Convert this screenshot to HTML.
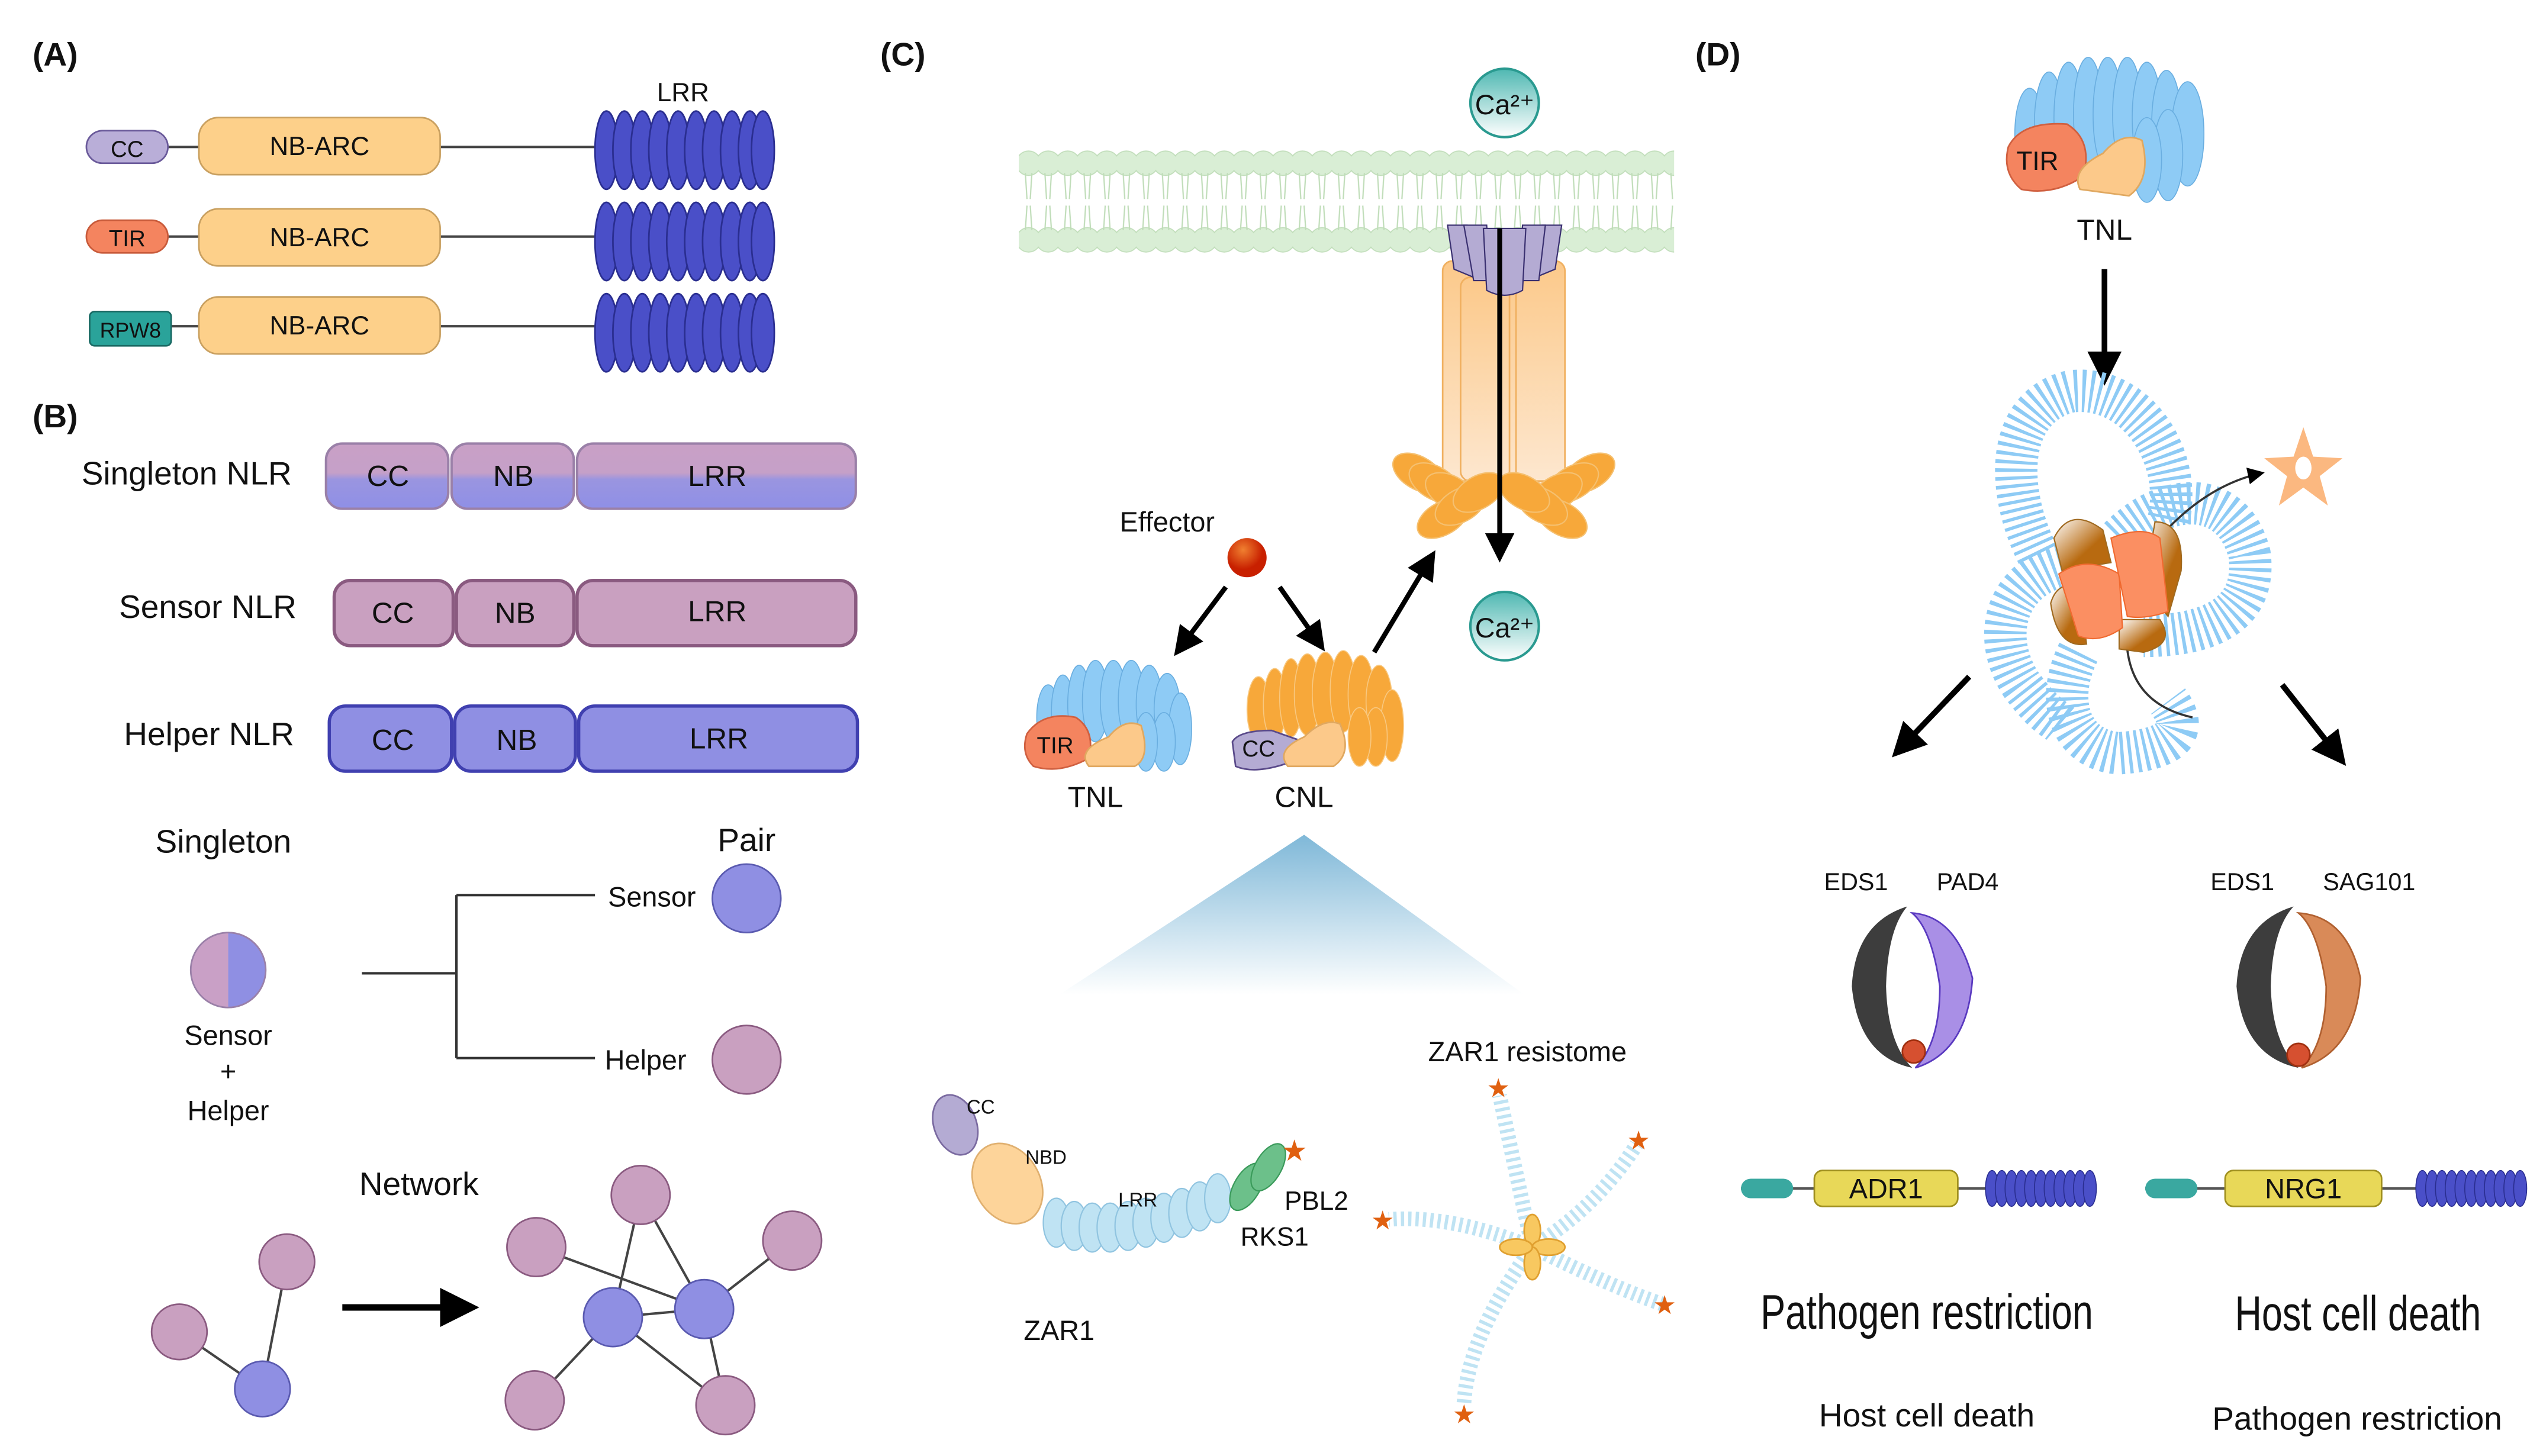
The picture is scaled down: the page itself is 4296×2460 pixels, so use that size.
<!DOCTYPE html>
<html><head><meta charset="utf-8"><style>
html,body{margin:0;padding:0;background:#fff}
svg{display:block}
text{font-family:"Liberation Sans",sans-serif;fill:#111}
text.star{fill:#e06010}
</style></head><body>
<svg width="4296" height="2460" viewBox="0 0 1560 893" xmlns="http://www.w3.org/2000/svg">
<defs>
<linearGradient id="sg" x1="0" y1="0" x2="0" y2="1"><stop offset="0" stop-color="#c9a0c6"/><stop offset="0.45" stop-color="#c5a0c8"/><stop offset="0.55" stop-color="#9a95e0"/><stop offset="1" stop-color="#8f8fe6"/></linearGradient>
<linearGradient id="tri" x1="0" y1="0" x2="0" y2="1"><stop offset="0" stop-color="#7fb8d8"/><stop offset="1" stop-color="#fff"/></linearGradient>
<linearGradient id="cyl" x1="0" y1="0" x2="0" y2="1"><stop offset="0" stop-color="#fcc98a"/><stop offset="1" stop-color="#fde7cf"/></linearGradient>
<linearGradient id="ca" x1="0" y1="0" x2="0" y2="1"><stop offset="0" stop-color="#4fb8b2"/><stop offset="1" stop-color="#fff"/></linearGradient>
<radialGradient id="eff" cx="0.4" cy="0.3"><stop offset="0" stop-color="#f08030"/><stop offset="1" stop-color="#c82000"/></radialGradient>
<linearGradient id="brn" x1="0" y1="0" x2="1" y2="1"><stop offset="0" stop-color="#fff"/><stop offset="0.6" stop-color="#b86a10"/></linearGradient>
<marker id="ah" markerWidth="6" markerHeight="6" refX="5" refY="3" orient="auto" markerUnits="strokeWidth"><path d="M0,0 L6,3 L0,6 Z" fill="#000"/></marker>
<marker id="ah2" markerWidth="8" markerHeight="8" refX="7" refY="4" orient="auto" markerUnits="strokeWidth"><path d="M0,0 L8,4 L0,8 Z" fill="#000"/></marker>
<g id="lrr">
<ellipse cx="0" cy="0" rx="7" ry="24" fill="#4a4fc8" stroke="#2a2e90"/><ellipse cx="11" cy="0" rx="7" ry="24" fill="#4a4fc8" stroke="#2a2e90"/><ellipse cx="22" cy="0" rx="7" ry="24" fill="#4a4fc8" stroke="#2a2e90"/><ellipse cx="33" cy="0" rx="7" ry="24" fill="#4a4fc8" stroke="#2a2e90"/><ellipse cx="44" cy="0" rx="7" ry="24" fill="#4a4fc8" stroke="#2a2e90"/><ellipse cx="55" cy="0" rx="7" ry="24" fill="#4a4fc8" stroke="#2a2e90"/><ellipse cx="66" cy="0" rx="7" ry="24" fill="#4a4fc8" stroke="#2a2e90"/><ellipse cx="77" cy="0" rx="7" ry="24" fill="#4a4fc8" stroke="#2a2e90"/><ellipse cx="88" cy="0" rx="7" ry="24" fill="#4a4fc8" stroke="#2a2e90"/><ellipse cx="96" cy="0" rx="7" ry="24" fill="#4a4fc8" stroke="#2a2e90"/>
</g>
<g id="slrr">
<ellipse cx="0" cy="0" rx="4" ry="11" fill="#4a4fc8" stroke="#2a2e90" stroke-width="0.6"/><ellipse cx="6" cy="0" rx="4" ry="11" fill="#4a4fc8" stroke="#2a2e90" stroke-width="0.6"/><ellipse cx="12" cy="0" rx="4" ry="11" fill="#4a4fc8" stroke="#2a2e90" stroke-width="0.6"/><ellipse cx="18" cy="0" rx="4" ry="11" fill="#4a4fc8" stroke="#2a2e90" stroke-width="0.6"/><ellipse cx="24" cy="0" rx="4" ry="11" fill="#4a4fc8" stroke="#2a2e90" stroke-width="0.6"/><ellipse cx="30" cy="0" rx="4" ry="11" fill="#4a4fc8" stroke="#2a2e90" stroke-width="0.6"/><ellipse cx="36" cy="0" rx="4" ry="11" fill="#4a4fc8" stroke="#2a2e90" stroke-width="0.6"/><ellipse cx="42" cy="0" rx="4" ry="11" fill="#4a4fc8" stroke="#2a2e90" stroke-width="0.6"/><ellipse cx="48" cy="0" rx="4" ry="11" fill="#4a4fc8" stroke="#2a2e90" stroke-width="0.6"/><ellipse cx="54" cy="0" rx="4" ry="11" fill="#4a4fc8" stroke="#2a2e90" stroke-width="0.6"/><ellipse cx="60" cy="0" rx="4" ry="11" fill="#4a4fc8" stroke="#2a2e90" stroke-width="0.6"/>
</g>
<pattern id="heads" x="625" y="0" width="12" height="200" patternUnits="userSpaceOnUse">
<circle cx="6" cy="100" r="7.5" fill="#d9eed5" stroke="#c0ddb9" stroke-width="0.6"/>
<circle cx="6" cy="147" r="7.5" fill="#d9eed5" stroke="#c0ddb9" stroke-width="0.6"/>
<path d="M4,106 L5,122 M8,106 L7,122 M4,141 L5,126 M8,141 L7,126" stroke="#c0ddb9" stroke-width="0.8"/>
</pattern>
</defs>

<!-- (A) -->
<text x="20" y="40" font-size="20" font-weight="bold">(A)</text>
<text x="403" y="62" font-size="16">LRR</text>
<g>
<line x1="100" y1="90" x2="370" y2="90" stroke="#444" stroke-width="1.5"/>
<rect x="53" y="80" width="50" height="20" rx="10" fill="#b9aed8" stroke="#6a5a9a"/><text x="78" y="96" font-size="14" text-anchor="middle">CC</text>
<rect x="122" y="72" width="148" height="35" rx="12" fill="#fdd08a" stroke="#c9a060"/><text x="196" y="95" font-size="16" text-anchor="middle">NB-ARC</text>
<use href="#lrr" x="372" y="92"/>
</g>
<g>
<line x1="100" y1="145" x2="370" y2="145" stroke="#444" stroke-width="1.5"/>
<rect x="53" y="135" width="50" height="20" rx="10" fill="#f4845f" stroke="#c85a3a"/><text x="78" y="151" font-size="14" text-anchor="middle">TIR</text>
<rect x="122" y="128" width="148" height="35" rx="12" fill="#fdd08a" stroke="#c9a060"/><text x="196" y="151" font-size="16" text-anchor="middle">NB-ARC</text>
<use href="#lrr" x="372" y="148"/>
</g>
<g>
<line x1="100" y1="200" x2="370" y2="200" stroke="#444" stroke-width="1.5"/>
<rect x="55" y="191" width="50" height="21" rx="3" fill="#2aa39a" stroke="#1a6a64"/><text x="80" y="207" font-size="13" text-anchor="middle">RPW8</text>
<rect x="122" y="182" width="148" height="35" rx="12" fill="#fdd08a" stroke="#c9a060"/><text x="196" y="205" font-size="16" text-anchor="middle">NB-ARC</text>
<use href="#lrr" x="372" y="204"/>
</g>

<!-- (B) -->
<text x="20" y="262" font-size="20" font-weight="bold">(B)</text>
<text x="50" y="297" font-size="20">Singleton NLR</text>
<g stroke="#9a80a8" stroke-width="1.5" fill="url(#sg)">
<rect x="200" y="272" width="75" height="40" rx="10"/><rect x="277" y="272" width="75" height="40" rx="10"/><rect x="354" y="272" width="171" height="40" rx="10"/>
</g>
<text x="238" y="298" font-size="18" text-anchor="middle">CC</text><text x="315" y="298" font-size="18" text-anchor="middle">NB</text><text x="440" y="298" font-size="18" text-anchor="middle">LRR</text>
<text x="73" y="379" font-size="20">Sensor NLR</text>
<g stroke="#8a5a80" stroke-width="2" fill="#c9a0c0">
<rect x="205" y="356" width="73" height="40" rx="10"/><rect x="280" y="356" width="72" height="40" rx="10"/><rect x="354" y="356" width="171" height="40" rx="10"/>
</g>
<text x="241" y="382" font-size="18" text-anchor="middle">CC</text><text x="316" y="382" font-size="18" text-anchor="middle">NB</text><text x="440" y="381" font-size="18" text-anchor="middle">LRR</text>
<text x="76" y="457" font-size="20">Helper NLR</text>
<g stroke="#4040b0" stroke-width="2" fill="#8f8fe3">
<rect x="202" y="433" width="75" height="40" rx="10"/><rect x="279" y="433" width="74" height="40" rx="10"/><rect x="355" y="433" width="171" height="40" rx="10"/>
</g>
<text x="241" y="460" font-size="18" text-anchor="middle">CC</text><text x="317" y="460" font-size="18" text-anchor="middle">NB</text><text x="441" y="459" font-size="18" text-anchor="middle">LRR</text>

<text x="137" y="523" font-size="20" text-anchor="middle">Singleton</text>
<path d="M140,572 A23,23 0 0 0 140,618 Z" fill="#c9a0c6"/>
<path d="M140,572 A23,23 0 0 1 140,618 Z" fill="#8f8fe3"/>
<circle cx="140" cy="595" r="23" fill="none" stroke="#9a80a8"/>
<text x="140" y="641" font-size="17" text-anchor="middle">Sensor</text>
<text x="140" y="663" font-size="17" text-anchor="middle">+</text>
<text x="140" y="687" font-size="17" text-anchor="middle">Helper</text>
<path d="M222,597 H280 M280,549 V649 M280,549 H365 M280,649 H365" stroke="#333" stroke-width="1.5" fill="none"/>
<text x="458" y="522" font-size="20" text-anchor="middle">Pair</text>
<text x="373" y="556" font-size="17">Sensor</text>
<text x="371" y="656" font-size="17">Helper</text>
<circle cx="458" cy="551" r="21" fill="#8f8fe3" stroke="#5a5ab0"/>
<circle cx="458" cy="650" r="21" fill="#c9a0c0" stroke="#8a5a80"/>

<text x="257" y="733" font-size="20" text-anchor="middle">Network</text>
<g stroke="#444" stroke-width="1.5">
<line x1="176" y1="774" x2="161" y2="852"/><line x1="110" y1="817" x2="161" y2="852"/>
<line x1="329" y1="765" x2="432" y2="803"/><line x1="393" y1="733" x2="376" y2="808"/><line x1="393" y1="733" x2="432" y2="803"/>
<line x1="376" y1="808" x2="432" y2="803"/><line x1="486" y1="761" x2="432" y2="803"/><line x1="376" y1="808" x2="328" y2="859"/>
<line x1="432" y1="803" x2="445" y2="862"/><line x1="376" y1="808" x2="445" y2="862"/>
</g>
<g stroke="#8a5a80" fill="#c9a0c0">
<circle cx="176" cy="774" r="17"/><circle cx="110" cy="817" r="17"/>
<circle cx="393" cy="733" r="18"/><circle cx="329" cy="765" r="18"/><circle cx="486" cy="761" r="18"/><circle cx="328" cy="859" r="18"/><circle cx="445" cy="862" r="18"/>
</g>
<g stroke="#5a5ab0" fill="#8f8fe3"><circle cx="161" cy="852" r="17"/><circle cx="376" cy="808" r="18"/><circle cx="432" cy="803" r="18"/></g>
<line x1="210" y1="802" x2="290" y2="802" stroke="#000" stroke-width="4" marker-end="url(#ah)"/>

<!-- (C) -->
<text x="540" y="40" font-size="20" font-weight="bold">(C)</text>
<rect x="625" y="88" width="402" height="70" fill="url(#heads)"/>
<circle cx="923" cy="63" r="21" fill="url(#ca)" stroke="#2a9a90" stroke-width="1.5"/><text x="923" y="70" font-size="17" text-anchor="middle">Ca²⁺</text>
<g fill="url(#cyl)" stroke="#f0b060">
<rect x="885" y="160" width="30" height="135" rx="6"/><rect x="918" y="165" width="30" height="135" rx="6"/><rect x="896" y="170" width="30" height="125" rx="6"/><rect x="930" y="160" width="30" height="135" rx="6"/>
</g>
<g fill="#f7a83a" stroke="#f5c070" stroke-width="0.8">
<ellipse cx="870" cy="290" rx="17" ry="10" transform="rotate(30 870 290)"/><ellipse cx="880" cy="296" rx="17" ry="10" transform="rotate(30 880 296)"/><ellipse cx="890" cy="302" rx="17" ry="10" transform="rotate(30 890 302)"/>
<ellipse cx="885" cy="318" rx="17" ry="10" transform="rotate(-30 885 318)"/><ellipse cx="896" cy="310" rx="17" ry="10" transform="rotate(-30 896 310)"/><ellipse cx="907" cy="302" rx="17" ry="10" transform="rotate(-30 907 302)"/>
<ellipse cx="975" cy="290" rx="17" ry="10" transform="rotate(-30 975 290)"/><ellipse cx="965" cy="296" rx="17" ry="10" transform="rotate(-30 965 296)"/><ellipse cx="955" cy="302" rx="17" ry="10" transform="rotate(-30 955 302)"/>
<ellipse cx="958" cy="318" rx="17" ry="10" transform="rotate(30 958 318)"/><ellipse cx="946" cy="310" rx="17" ry="10" transform="rotate(30 946 310)"/><ellipse cx="935" cy="302" rx="17" ry="10" transform="rotate(30 935 302)"/>
</g>
<g fill="#b4abd3" stroke="#3a3070" stroke-width="0.8">
<path d="M888,138 L900,138 L904,170 L892,165 Z"/><path d="M946,138 L958,138 L954,165 L942,170 Z"/>
<path d="M898,138 L912,138 L914,172 L904,172 Z"/><path d="M934,138 L948,138 L944,172 L932,172 Z"/>
<path d="M910,140 L936,140 L934,178 Q923,184 912,178 Z"/>
</g>
<line x1="920" y1="140" x2="920" y2="342" stroke="#000" stroke-width="3" marker-end="url(#ah)"/>
<circle cx="923" cy="384" r="21" fill="url(#ca)" stroke="#2a9a90" stroke-width="1.5"/><text x="923" y="391" font-size="17" text-anchor="middle">Ca²⁺</text>

<text x="716" y="326" font-size="17" text-anchor="middle">Effector</text>
<circle cx="765" cy="342" r="12" fill="url(#eff)"/>
<line x1="752" y1="360" x2="722" y2="400" stroke="#000" stroke-width="3" marker-end="url(#ah)"/>
<line x1="785" y1="360" x2="811" y2="397" stroke="#000" stroke-width="3" marker-end="url(#ah)"/>
<line x1="843" y1="400" x2="879" y2="340" stroke="#000" stroke-width="3" marker-end="url(#ah)"/>
<g fill="#8ecbf5" stroke="#6aaee0" stroke-width="0.6">
<ellipse cx="643" cy="440" rx="7" ry="20"/><ellipse cx="652" cy="436" rx="7" ry="22"/><ellipse cx="662" cy="432" rx="7" ry="24"/><ellipse cx="672" cy="430" rx="8" ry="25"/><ellipse cx="683" cy="430" rx="8" ry="25"/><ellipse cx="694" cy="430" rx="8" ry="25"/><ellipse cx="705" cy="432" rx="8" ry="24"/><ellipse cx="716" cy="435" rx="8" ry="22"/><ellipse cx="724" cy="447" rx="7" ry="22"/><ellipse cx="714" cy="455" rx="7" ry="18"/><ellipse cx="703" cy="455" rx="7" ry="18"/>
</g>
<path d="M630,450 Q640,436 660,440 Q672,448 668,465 Q650,475 634,470 Q626,462 630,450 Z" fill="#f4845f" stroke="#d06040"/>
<text x="636" y="462" font-size="14">TIR</text>
<path d="M668,470 Q660,460 680,452 Q690,440 700,445 Q706,465 696,470 Z" fill="#fcc98a" stroke="#e0a860"/>
<text x="672" y="495" font-size="18" text-anchor="middle">TNL</text>
<g fill="#f7a83a" stroke="#f8c880" stroke-width="0.6">
<ellipse cx="772" cy="435" rx="7" ry="20"/><ellipse cx="782" cy="432" rx="7" ry="22"/><ellipse cx="792" cy="428" rx="7" ry="24"/><ellipse cx="802" cy="426" rx="8" ry="25"/><ellipse cx="813" cy="425" rx="8" ry="25"/><ellipse cx="824" cy="424" rx="8" ry="25"/><ellipse cx="835" cy="426" rx="8" ry="24"/><ellipse cx="846" cy="430" rx="8" ry="22"/><ellipse cx="854" cy="445" rx="7" ry="22"/><ellipse cx="844" cy="452" rx="7" ry="18"/><ellipse cx="834" cy="452" rx="7" ry="18"/>
</g>
<path d="M756,455 Q760,448 780,448 L800,455 L790,468 Q770,475 758,470 Z" fill="#b4abd3" stroke="#5a4a8a"/>
<text x="762" y="464" font-size="14">CC</text>
<path d="M790,470 Q782,460 800,452 Q812,440 822,444 Q830,462 818,470 Z" fill="#fcc98a" stroke="#e0a860"/>
<text x="800" y="495" font-size="18" text-anchor="middle">CNL</text>
<path d="M800,512 L935,610 L650,610 Z" fill="url(#tri)"/>
<ellipse cx="586" cy="690" rx="13" ry="19" fill="#b4abd3" stroke="#7a6aa0" transform="rotate(-20 586 690)"/>
<ellipse cx="618" cy="726" rx="20" ry="26" fill="#fdd49a" stroke="#e0b070" transform="rotate(-30 618 726)"/>
<g fill="#bfe3f3" stroke="#90c4e0" stroke-width="0.8">
<ellipse cx="648" cy="750" rx="8" ry="15"/><ellipse cx="659" cy="752" rx="8" ry="15"/><ellipse cx="670" cy="753" rx="8" ry="15"/><ellipse cx="681" cy="753" rx="8" ry="15"/><ellipse cx="692" cy="752" rx="8" ry="15"/><ellipse cx="703" cy="750" rx="8" ry="15"/><ellipse cx="714" cy="747" rx="8" ry="15"/><ellipse cx="725" cy="744" rx="8" ry="15"/><ellipse cx="736" cy="740" rx="8" ry="15"/><ellipse cx="747" cy="735" rx="8" ry="15"/>
</g>
<g fill="#6cc08a" stroke="#3a9a5a" stroke-width="0.8"><ellipse cx="765" cy="728" rx="8" ry="16" transform="rotate(30 765 728)"/><ellipse cx="778" cy="716" rx="8" ry="16" transform="rotate(30 778 716)"/></g>
<text class="star" x="786" y="712" font-size="18">★</text>
<text x="593" y="683" font-size="12">CC</text>
<text x="629" y="714" font-size="12">NBD</text>
<text x="686" y="740" font-size="12">LRR</text>
<text x="788" y="742" font-size="16">PBL2</text>
<text x="761" y="764" font-size="16">RKS1</text>
<text x="628" y="822" font-size="17">ZAR1</text>
<text x="937" y="651" font-size="17" text-anchor="middle">ZAR1 resistome</text>
<g stroke="#bfe3f3" stroke-width="9" stroke-dasharray="2 2.5" fill="none">
<path d="M940,765 Q930,720 920,672"/><path d="M940,765 Q980,740 1004,702"/><path d="M940,765 Q990,790 1020,800"/><path d="M940,765 Q900,820 898,862"/><path d="M940,765 Q890,745 852,748"/>
</g>
<g font-size="16"><text class="star" x="912" y="673">★</text><text class="star" x="998" y="705">★</text><text class="star" x="1014" y="806">★</text><text class="star" x="891" y="873">★</text><text class="star" x="841" y="754">★</text></g>
<g fill="#f8c860" stroke="#e0a030"><ellipse cx="940" cy="755" rx="5" ry="10"/><ellipse cx="950" cy="765" rx="10" ry="5"/><ellipse cx="940" cy="775" rx="5" ry="10"/><ellipse cx="930" cy="765" rx="10" ry="5"/></g>

<!-- (D) -->
<text x="1040" y="40" font-size="20" font-weight="bold">(D)</text>
<g fill="#8ecbf5" stroke="#6aaee0" stroke-width="0.6">
<ellipse cx="1245" cy="82" rx="9" ry="28"/><ellipse cx="1257" cy="76" rx="9" ry="32"/><ellipse cx="1269" cy="72" rx="9" ry="34"/><ellipse cx="1281" cy="70" rx="9" ry="35"/><ellipse cx="1293" cy="70" rx="9" ry="35"/><ellipse cx="1305" cy="70" rx="9" ry="35"/><ellipse cx="1317" cy="72" rx="9" ry="34"/><ellipse cx="1329" cy="75" rx="9" ry="32"/><ellipse cx="1342" cy="82" rx="10" ry="32"/><ellipse cx="1330" cy="95" rx="9" ry="28"/><ellipse cx="1317" cy="98" rx="9" ry="26"/>
</g>
<path d="M1232,90 Q1240,74 1268,76 Q1284,86 1278,108 Q1260,120 1240,116 Q1228,106 1232,90 Z" fill="#f4845f" stroke="#d06040"/>
<text x="1237" y="104" font-size="16">TIR</text>
<path d="M1276,116 Q1270,104 1290,94 Q1302,80 1314,86 Q1320,110 1306,120 Z" fill="#fcc98a" stroke="#e0a860"/>
<text x="1291" y="147" font-size="18" text-anchor="middle">TNL</text>
<line x1="1291" y1="165" x2="1291" y2="233" stroke="#000" stroke-width="3.5" marker-end="url(#ah)"/>
<g stroke="#8ecbf5" stroke-width="26" stroke-dasharray="2 2.8" fill="none">
<path d="M1250,340 C1230,300 1230,250 1270,240 C1310,235 1340,280 1330,320"/>
<path d="M1300,330 C1330,300 1370,300 1380,340 C1385,380 1350,390 1315,390"/>
<path d="M1275,345 C1230,350 1220,390 1240,420 C1255,440 1260,440 1265,445"/>
<path d="M1275,400 C1260,430 1270,460 1300,462 C1330,460 1345,450 1330,430"/>
</g>
<path d="M1302,360 Q1340,300 1388,290" stroke="#333" stroke-width="1.3" fill="none" marker-end="url(#ah2)"/>
<path d="M1305,380 Q1300,430 1345,440" stroke="#333" stroke-width="1.3" fill="none"/>
<path d="M1413,262 L1419,280 L1437,281 L1423,292 L1428,310 L1413,299 L1398,310 L1403,292 L1389,281 L1407,280 Z" fill="#fbb880"/>
<ellipse cx="1413" cy="287" rx="5" ry="7" fill="#fff"/>
<g stroke="#a06a20" stroke-width="0.8" fill="url(#brn)">
<path d="M1260,330 Q1270,310 1290,325 L1295,345 L1265,350 Z"/><path d="M1322,320 Q1340,320 1338,350 L1330,378 L1315,360 Z"/>
<path d="M1258,370 Q1262,356 1275,360 L1280,395 Q1262,398 1258,370 Z"/><path d="M1300,380 L1325,380 Q1335,395 1315,400 L1300,398 Z"/>
</g>
<g fill="#fb8f62" stroke="#f06a30" stroke-width="0.8">
<path d="M1263,352 Q1280,340 1300,352 L1302,385 Q1288,395 1275,390 Z"/><path d="M1295,330 Q1315,322 1325,330 L1330,375 Q1316,380 1305,378 Z"/>
</g>
<line x1="1208" y1="415" x2="1163" y2="462" stroke="#000" stroke-width="3.5" marker-end="url(#ah)"/>
<line x1="1400" y1="420" x2="1437" y2="467" stroke="#000" stroke-width="3.5" marker-end="url(#ah)"/>

<text x="1119" y="546" font-size="15">EDS1</text><text x="1188" y="546" font-size="15">PAD4</text>
<path d="M1173,560 Q1200,562 1210,600 Q1207,645 1175,655 Q1190,640 1190,605 Q1185,570 1173,560 Z" fill="#a98fe6" stroke="#5a3ac0"/>
<path d="M1170,556 Q1138,566 1136,605 Q1140,648 1173,655 Q1158,640 1157,605 Q1158,570 1170,556 Z" fill="#3d3d3d"/>
<circle cx="1174" cy="645" r="7" fill="#d65030" stroke="#a03010"/>
<text x="1356" y="546" font-size="15">EDS1</text><text x="1425" y="546" font-size="15">SAG101</text>
<path d="M1410,560 Q1440,562 1448,600 Q1445,645 1412,655 Q1427,640 1427,605 Q1422,570 1410,560 Z" fill="#d98a58" stroke="#b06030"/>
<path d="M1407,556 Q1374,566 1372,605 Q1376,648 1410,655 Q1394,640 1393,605 Q1394,570 1407,556 Z" fill="#3d3d3d"/>
<circle cx="1410" cy="647" r="7" fill="#d65030" stroke="#a03010"/>

<line x1="1068" y1="729" x2="1225" y2="729" stroke="#555" stroke-width="1.5"/>
<rect x="1068" y="723" width="32" height="12" rx="6" fill="#3aa8a0"/>
<rect x="1113" y="718" width="88" height="22" rx="5" fill="#e8d858" stroke="#a09020"/><text x="1157" y="735" font-size="17" text-anchor="middle">ADR1</text>
<use href="#slrr" x="1222" y="729"/>
<line x1="1316" y1="729" x2="1485" y2="729" stroke="#555" stroke-width="1.5"/>
<rect x="1316" y="723" width="32" height="12" rx="6" fill="#3aa8a0"/>
<rect x="1365" y="718" width="96" height="22" rx="5" fill="#e8d858" stroke="#a09020"/><text x="1413" y="735" font-size="17" text-anchor="middle">NRG1</text>
<use href="#slrr" x="1486" y="729"/>

<text x="1080" y="815" font-size="30" textLength="204" lengthAdjust="spacingAndGlyphs">Pathogen restriction</text>
<text x="1371" y="816" font-size="30" textLength="151" lengthAdjust="spacingAndGlyphs">Host cell death</text>
<text x="1182" y="875" font-size="20" text-anchor="middle">Host cell death</text>
<text x="1446" y="877" font-size="20" text-anchor="middle">Pathogen restriction</text>
</svg>
</body></html>
